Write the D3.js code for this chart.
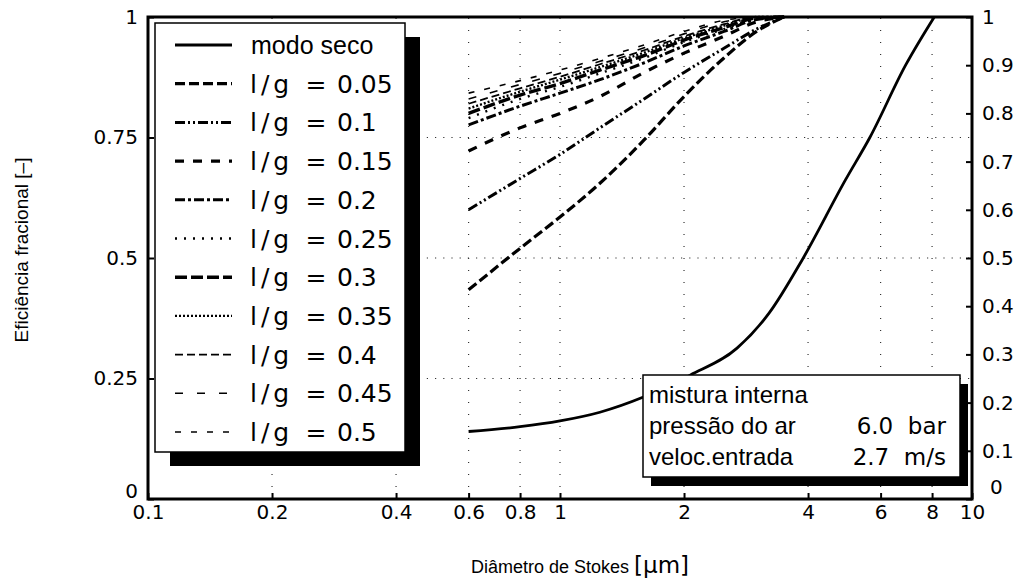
<!DOCTYPE html>
<html lang="pt">

<head>
    <meta charset="UTF-8">
    <title>Eficiência fracional</title>
    <script src="https://cdn.jsdelivr.net/npm/d3@7"></script>
    <style>
        body { margin: 0; background: #fff; }
        text { fill: #000; }
    </style>
</head>

<body>
</body>
<script>
    const diam = [0.6, 0.8, 1, 1.25, 1.6, 2, 2.5, 3, 3.5];

    // dry mode curve has its own points (it goes up to 8 um)
    const dryDiam = [0.6, 0.8, 1, 1.25, 1.6, 2.07, 2.69, 3.22, 3.87, 4.93, 5.65, 6.9, 8.1];
    const dryEff = [0.14, 0.15, 0.162, 0.18, 0.212, 0.257, 0.313, 0.386, 0.496, 0.662, 0.75, 0.9, 1.0];

    // liquid/gas ratios and their efficiency curves
    const lgRatios = ["0.05", "0.1", "0.15", "0.2", "0.25", "0.3", "0.35", "0.4", "0.45", "0.5"];
    const eff005 = [0.434, 0.52, 0.585, 0.655, 0.745, 0.835, 0.915, 0.97, 1.0];
    const eff010 = [0.60, 0.665, 0.715, 0.77, 0.83, 0.885, 0.935, 0.975, 1.0];
    const eff015 = [0.722, 0.77, 0.80, 0.835, 0.885, 0.925, 0.96, 0.99, 1.0];
    const eff020 = [0.776, 0.815, 0.842, 0.87, 0.905, 0.94, 0.97, 0.995, 1.0];
    const eff025 = [0.79, 0.83, 0.855, 0.883, 0.915, 0.948, 0.975, 0.997, 1.0];
    const eff030 = [0.80, 0.838, 0.862, 0.89, 0.92, 0.952, 0.978, 0.998, 1.0];
    const eff035 = [0.81, 0.845, 0.87, 0.896, 0.926, 0.956, 0.982, 1.0, 1.0];
    const eff040 = [0.82, 0.852, 0.876, 0.902, 0.931, 0.96, 0.985, 1.0, 1.0];
    const eff045 = [0.83, 0.86, 0.883, 0.908, 0.936, 0.965, 0.99, 1.0, 1.0];
    const eff050 = [0.842, 0.868, 0.89, 0.914, 0.942, 0.97, 0.993, 1.0, 1.0];
    const lgEff = [eff005, eff010, eff015, eff020, eff025, eff030, eff035, eff040, eff045, eff050];

    // tick labels
    const xTicks = [0.1, 0.2, 0.4, 0.6, 0.8, 1, 2, 4, 6, 8, 10];
    const yLeftTicks = [0, 0.25, 0.5, 0.75, 1];
    const yRightTicks = [0, 0.1, 0.2, 0.3, 0.4, 0.5, 0.6, 0.7, 0.8, 0.9, 1];

    // annotation box lines
    const infoLabels = ["mistura interna", "pressão do ar", "veloc.entrada"];
    const infoValues = ["", "6.0  bar", "2.7  m/s"];

    // line styles for each series (dry first)
    const dashes = [null, "10,4", "10,3,2,3,2,3", "9,9", "10,3,3,3", "2,7", "12,4", "2,2", "8,4", "8,14", "6,10"];
    const widths = [2.8, 3.2, 3, 3.2, 3, 2.4, 3.4, 2.4, 1.8, 1.6, 1.6];

    const width = 1025;
    const height = 588;
    const numFont = "DejaVu Sans, sans-serif";
    const wordFont = "Liberation Sans, Arial, sans-serif";

    const svg = d3.select("body")
        .append("svg")
        .attr("width", width)
        .attr("height", height);

    const x = d3.scaleLog().domain([0.1, 10]).range([148, 972]);
    const y = d3.scaleLinear().domain([0, 1]).range([499, 17]);

    // dotted grid
    const grid = svg.append("g")
        .attr("stroke", "#333")
        .attr("stroke-width", 1.2)
        .attr("stroke-dasharray", "1.2,7");
    grid.selectAll("line.h")
        .data([0.25, 0.5, 0.75])
        .join("line")
        .attr("class", "h")
        .attr("x1", x(0.1)).attr("x2", x(10))
        .attr("y1", d => y(d)).attr("y2", d => y(d));
    grid.selectAll("line.v")
        .data(xTicks.slice(1, -1))
        .join("line")
        .attr("class", "v")
        .attr("stroke-dasharray", "1,11")
        .attr("x1", d => x(d)).attr("x2", d => x(d))
        .attr("y1", y(0)).attr("y2", y(1));

    // curves
    const line = d3.line()
        .x(d => x(d[0]))
        .y(d => y(d[1]))
        .curve(d3.curveMonotoneX);

    const series = [d3.zip(dryDiam, dryEff)].concat(lgEff.map(v => d3.zip(diam, v)));

    svg.append("g")
        .attr("fill", "none")
        .attr("stroke", "#000")
        .selectAll("path")
        .data(series)
        .join("path")
        .attr("stroke-width", (d, i) => widths[i])
        .attr("stroke-dasharray", (d, i) => dashes[i])
        .attr("d", line);

    // axes (ticks point inwards)
    const fmt = d3.format("");
    const xAxis = svg.append("g")
        .attr("transform", `translate(0,${y(0)})`)
        .call(d3.axisBottom(x).tickValues(xTicks).tickFormat(fmt).tickSize(-6).tickPadding(6));
    const yAxis = svg.append("g")
        .attr("transform", `translate(${x(0.1)},0)`)
        .call(d3.axisLeft(y).tickValues(yLeftTicks).tickFormat(fmt).tickSize(-6).tickPadding(10));
    const yAxisR = svg.append("g")
        .attr("transform", `translate(${x(10)},0)`)
        .call(d3.axisRight(y).tickValues(yRightTicks).tickFormat(fmt).tickSize(-6).tickPadding(10));

    [xAxis, yAxis, yAxisR].forEach(a => {
        a.select(".domain").remove();
        a.selectAll("line").attr("stroke-width", 2);
        a.selectAll("text").attr("font-family", numFont).attr("font-size", 20);
    });
    // corner labels sit a bit off like the original
    yAxis.selectAll("text").filter(d => d === 0).attr("dy", "-0.1em");
    yAxisR.selectAll("text").filter(d => d === 0).attr("dy", "-0.3em").attr("dx", "0.4em");

    // frame
    svg.append("rect")
        .attr("x", x(0.1)).attr("y", y(1))
        .attr("width", x(10) - x(0.1)).attr("height", y(0) - y(1))
        .attr("fill", "none").attr("stroke", "#000").attr("stroke-width", 3);

    // axis titles
    svg.append("text")
        .attr("transform", `translate(28,${y(0.5) - 8}) rotate(-90)`)
        .attr("text-anchor", "middle")
        .attr("font-family", wordFont)
        .attr("font-size", 19)
        .text("Eficiência fracional [–]");

    const xt = svg.append("text")
        .attr("x", 580).attr("y", 573)
        .attr("text-anchor", "middle")
        .attr("font-family", wordFont)
        .attr("font-size", 18);
    xt.append("tspan").text("Diâmetro de Stokes ");
    xt.append("tspan").attr("font-family", numFont).attr("font-size", 23).text("[µm]");

    // legend box with black drop shadow
    const leg = { x: 155, y: 23, w: 250, h: 429 };
    svg.append("rect")
        .attr("x", leg.x + 15).attr("y", leg.y + 14)
        .attr("width", leg.w).attr("height", leg.h)
        .attr("fill", "#000");
    svg.append("rect")
        .attr("x", leg.x).attr("y", leg.y)
        .attr("width", leg.w).attr("height", leg.h)
        .attr("fill", "#fff").attr("stroke", "#000").attr("stroke-width", 1.5);

    const legLabels = ["modo seco"].concat(lgRatios);
    const rowY = d3.scaleLinear().domain([0, legLabels.length - 1]).range([leg.y + 22, leg.y + 409]);
    const rows = svg.append("g")
        .selectAll("g")
        .data(legLabels)
        .join("g")
        .attr("transform", (d, i) => `translate(0,${rowY(i)})`);

    rows.append("line")
        .attr("x1", 175).attr("x2", 232)
        .attr("stroke", "#000")
        .attr("stroke-width", (d, i) => widths[i])
        .attr("stroke-dasharray", (d, i) => dashes[i]);

    rows.filter((d, i) => i === 0).append("text")
        .attr("x", 251).attr("dy", "0.35em")
        .attr("font-family", wordFont).attr("font-size", 25)
        .text(d => d);
    const lgRows = rows.filter((d, i) => i > 0);
    lgRows.append("text")
        .attr("x", 250).attr("dy", "0.36em")
        .attr("font-family", numFont).attr("font-size", 25)
        .attr("letter-spacing", 4)
        .text("l/g");
    lgRows.append("text")
        .attr("x", 316).attr("dy", "0.36em").attr("text-anchor", "middle")
        .attr("font-family", numFont).attr("font-size", 25)
        .text("=");
    lgRows.append("text")
        .attr("x", 337).attr("dy", "0.36em")
        .attr("font-family", numFont).attr("font-size", 25)
        .text(d => d);

    // info box, bottom right
    const box = { x: 643, y: 375, w: 317, h: 102 };
    svg.append("rect")
        .attr("x", box.x + 8).attr("y", box.y + 9)
        .attr("width", box.w).attr("height", box.h)
        .attr("fill", "#000");
    svg.append("rect")
        .attr("x", box.x).attr("y", box.y)
        .attr("width", box.w).attr("height", box.h)
        .attr("fill", "#fff").attr("stroke", "#000").attr("stroke-width", 1.5);

    const info = svg.append("g")
        .selectAll("g")
        .data(infoLabels)
        .join("g")
        .attr("transform", (d, i) => `translate(0,${box.y + 20 + i * 31})`);
    info.append("text")
        .attr("x", box.x + 6).attr("dy", "0.35em")
        .attr("font-family", wordFont).attr("font-size", 24)
        .text(d => d);
    info.append("text")
        .attr("x", box.x + box.w - 14).attr("dy", "0.35em").attr("text-anchor", "end")
        .attr("font-family", numFont).attr("font-size", 23)
        .attr("xml:space", "preserve").style("white-space", "pre")
        .text((d, i) => infoValues[i]);
</script>

</html>
